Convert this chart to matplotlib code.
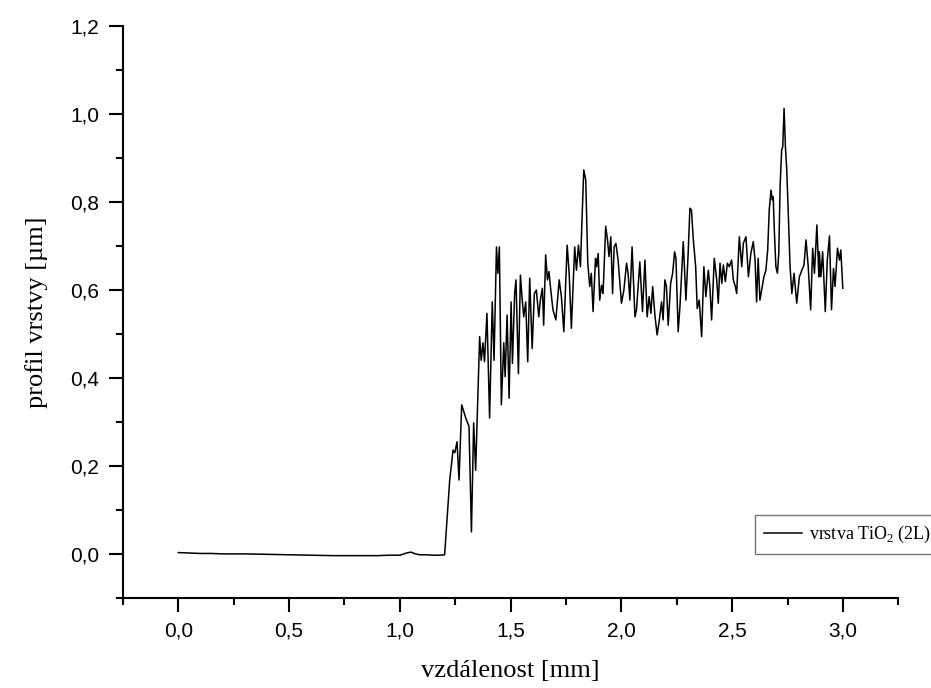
import matplotlib
matplotlib.use("Agg")
import matplotlib.pyplot as plt
from matplotlib.ticker import MultipleLocator, FuncFormatter

# profile
dist = [0.00, 0.05, 0.10, 0.15, 0.20, 0.30, 0.40, 0.50, 0.60, 0.70, 0.80, 0.90, 0.95,
        1.00, 1.03, 1.05, 1.07, 1.09, 1.12, 1.15, 1.18, 1.202,
        1.225, 1.240, 1.248, 1.258, 1.267, 1.279, 1.289, 1.300, 1.312, 1.323, 1.333,
        1.342, 1.360, 1.367, 1.375, 1.382, 1.393, 1.405, 1.417, 1.425, 1.436, 1.442,
        1.449, 1.458, 1.469, 1.475, 1.484, 1.493, 1.502, 1.508, 1.518, 1.524, 1.535,
        1.544, 1.551, 1.559, 1.568, 1.577, 1.586, 1.597, 1.607, 1.616, 1.627, 1.634,
        1.643, 1.649, 1.658, 1.666, 1.673, 1.681, 1.691, 1.704, 1.719, 1.729, 1.740,
        1.755, 1.764, 1.774, 1.789, 1.797, 1.806, 1.815, 1.822, 1.830, 1.839, 1.848,
        1.857, 1.864, 1.872, 1.883, 1.888, 1.895, 1.902, 1.910, 1.917, 1.929, 1.937,
        1.944, 1.952, 1.960, 1.967, 1.975, 1.985, 2.000, 2.011, 2.023, 2.030, 2.038,
        2.048, 2.061, 2.068, 2.083, 2.095, 2.106, 2.116, 2.125, 2.133, 2.141, 2.151,
        2.161, 2.170, 2.181, 2.188, 2.196, 2.203, 2.211, 2.222, 2.231, 2.240, 2.246,
        2.256, 2.264, 2.279, 2.291, 2.301, 2.309, 2.316, 2.324, 2.335, 2.342, 2.351,
        2.362, 2.372, 2.381, 2.392, 2.399, 2.407, 2.419, 2.430, 2.437, 2.445, 2.453,
        2.460, 2.469, 2.478, 2.487, 2.497, 2.505, 2.514, 2.520, 2.532, 2.543, 2.550,
        2.562, 2.573, 2.584, 2.595, 2.603, 2.610, 2.617, 2.625, 2.634, 2.643, 2.652,
        2.660, 2.667, 2.675, 2.681, 2.685, 2.690, 2.697, 2.704, 2.710, 2.716, 2.723,
        2.728, 2.734, 2.740, 2.746, 2.753, 2.761, 2.769, 2.779, 2.791, 2.803, 2.814,
        2.824, 2.833, 2.843, 2.854, 2.863, 2.871, 2.882, 2.891, 2.893, 2.900, 2.908,
        2.920, 2.929, 2.939, 2.948, 2.957, 2.964, 2.975, 2.984, 2.990, 2.999]
profile = [0.003, 0.002, 0.001, 0.001, 0.000, 0.000, -0.001, -0.002, -0.003, -0.004, -0.004, -0.004, -0.003,
           -0.003, 0.002, 0.004, 0.000, -0.002, -0.002, -0.003, -0.003, -0.002,
           0.168, 0.236, 0.230, 0.255, 0.168, 0.339, 0.323, 0.305, 0.290, 0.050, 0.298,
           0.190, 0.494, 0.440, 0.480, 0.437, 0.547, 0.309, 0.573, 0.440, 0.698, 0.638,
           0.698, 0.339, 0.480, 0.403, 0.543, 0.354, 0.573, 0.433, 0.592, 0.623, 0.410,
           0.634, 0.585, 0.539, 0.573, 0.437, 0.627, 0.467, 0.592, 0.600, 0.539, 0.577,
           0.604, 0.520, 0.680, 0.623, 0.642, 0.600, 0.555, 0.532, 0.623, 0.585, 0.505,
           0.702, 0.638, 0.513, 0.698, 0.645, 0.702, 0.653, 0.760, 0.873, 0.850, 0.661,
           0.608, 0.638, 0.551, 0.672, 0.653, 0.683, 0.577, 0.611, 0.592, 0.745, 0.714,
           0.676, 0.721, 0.592, 0.698, 0.706, 0.668, 0.570, 0.600, 0.661, 0.638, 0.577,
           0.698, 0.539, 0.555, 0.664, 0.551, 0.668, 0.539, 0.585, 0.547, 0.608, 0.543,
           0.498, 0.528, 0.573, 0.532, 0.623, 0.608, 0.520, 0.615, 0.638, 0.687, 0.672,
           0.505, 0.562, 0.710, 0.577, 0.683, 0.786, 0.782, 0.717, 0.653, 0.558, 0.577,
           0.494, 0.653, 0.585, 0.645, 0.608, 0.532, 0.672, 0.623, 0.570, 0.661, 0.615,
           0.657, 0.619, 0.661, 0.653, 0.668, 0.623, 0.608, 0.592, 0.721, 0.653, 0.706,
           0.721, 0.630, 0.683, 0.710, 0.668, 0.573, 0.672, 0.577, 0.604, 0.630, 0.645,
           0.691, 0.782, 0.827, 0.805, 0.812, 0.736, 0.653, 0.638, 0.683, 0.835, 0.918,
           0.926, 1.013, 0.926, 0.873, 0.774, 0.653, 0.592, 0.638, 0.570, 0.630, 0.645,
           0.657, 0.714, 0.653, 0.555, 0.695, 0.638, 0.748, 0.630, 0.687, 0.630, 0.687,
           0.551, 0.668, 0.723, 0.555, 0.649, 0.608, 0.695, 0.668, 0.691, 0.604]

fig = plt.figure(figsize=(9.31, 6.88), dpi=100)
ax = fig.add_axes([0.132, 0.131, 0.833, 0.831])

ax.plot(dist, profile, color='black', lw=1.1, label='vrstva TiO$_\\mathregular{2}$ (2L)')

ax.set_xlim(-0.25, 3.25)
ax.set_ylim(-0.1, 1.2)
ax.spines['top'].set_visible(False)
ax.spines['right'].set_visible(False)
for s in ['left', 'bottom']:
    ax.spines[s].set_linewidth(1.5)

ax.xaxis.set_major_locator(MultipleLocator(0.5))
ax.xaxis.set_minor_locator(MultipleLocator(0.25))
ax.yaxis.set_major_locator(MultipleLocator(0.2))
ax.yaxis.set_minor_locator(MultipleLocator(0.1))
comma = FuncFormatter(lambda v, p: ('%.1f' % v).replace('.', ','))
ax.xaxis.set_major_formatter(comma)
ax.yaxis.set_major_formatter(comma)
ax.tick_params(which='major', direction='out', length=10, width=1.5, labelsize=15, pad=7)
ax.tick_params(which='minor', direction='out', length=5, width=1.5)
for lab in ax.get_xticklabels() + ax.get_yticklabels():
    lab.set_fontfamily('Liberation Sans')

ax.set_xlabel('vzdálenost [mm]', fontfamily='Liberation Serif', fontsize=19, labelpad=14)
ax.set_ylabel('profil vrstvy [µm]', fontfamily='Liberation Serif', fontsize=19, labelpad=16)

leg = ax.legend(loc='upper left', bbox_to_anchor=(0.811, 0.2515), bbox_transform=fig.transFigure,
                prop={'family': 'Liberation Serif', 'size': 13}, frameon=True, fancybox=False,
                edgecolor='#555555', handlelength=2.1, handletextpad=0.4, borderpad=0.5,
                borderaxespad=0)
leg.get_frame().set_linewidth(1.0)

fig.savefig('out.png', dpi=100)
